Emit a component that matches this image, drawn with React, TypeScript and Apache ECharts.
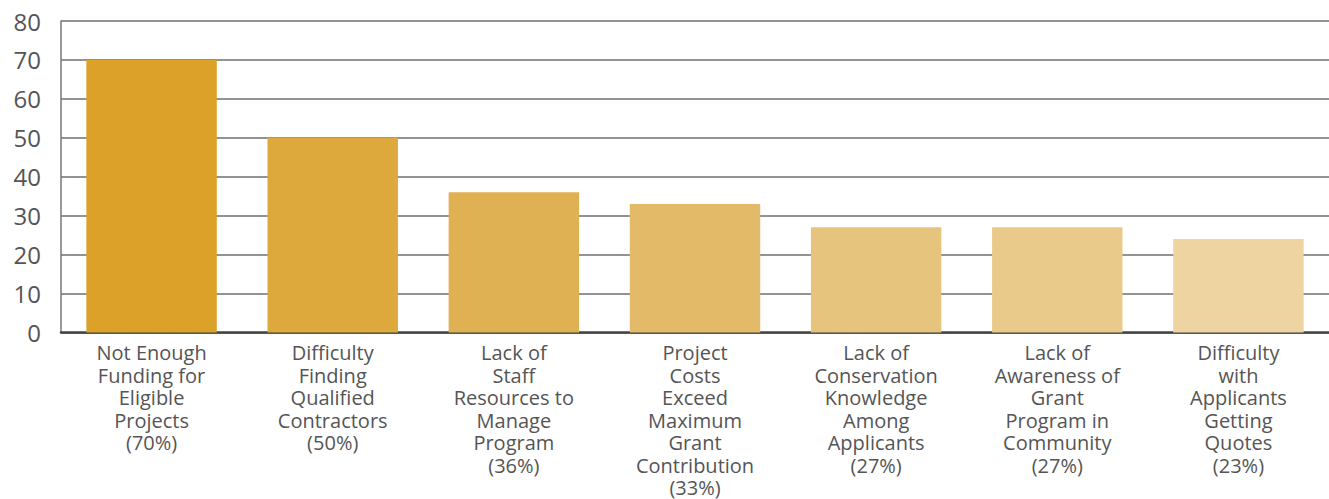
import React, { useEffect, useRef } from "react";
import * as echarts from "echarts";

const categories = [
  "Not Enough\nFunding for\nEligible\nProjects\n(70%)",
  "Difficulty\nFinding\nQualified\nContractors\n(50%)",
  "Lack of\nStaff\nResources to\nManage\nProgram\n(36%)",
  "Project\nCosts\nExceed\nMaximum\nGrant\nContribution\n(33%)",
  "Lack of\nConservation\nKnowledge\nAmong\nApplicants\n(27%)",
  "Lack of\nAwareness of\nGrant\nProgram in\nCommunity\n(27%)",
  "Difficulty\nwith\nApplicants\nGetting\nQuotes\n(23%)",
];
const values = [70, 50, 36, 33, 27, 27, 24];
const barColors = ["#DBA128", "#DDA83C", "#E0B153", "#E3BA68", "#E7C47D", "#EACA8A", "#EED4A0"];

export default function App() {
  const ref = useRef<HTMLDivElement>(null);
  useEffect(() => {
    document.body.style.margin = "0";
    const chart = echarts.init(ref.current!, undefined, { renderer: "svg" });
    chart.setOption({
      animation: false,
      grid: { left: 61, right: 0, top: 21, bottom: 163 },
      xAxis: {
        type: "category",
        data: categories,
        axisLine: { lineStyle: { color: "#444", width: 2.5 } },
        axisTick: { inside: true, length: 7, lineStyle: { color: "#555", width: 1.5 } },
        axisLabel: {
          interval: 0,
          margin: 9,
          color: "#555",
          fontFamily: "Open Sans",
          fontSize: 20,
          lineHeight: 22.5,
          align: "center",
        },
      },
      yAxis: {
        type: "value",
        min: 0,
        max: 80,
        interval: 10,
        axisLine: { show: true, lineStyle: { color: "#777", width: 1.5 } },
        axisTick: { show: false },
        splitLine: { lineStyle: { color: "#6f6f6f", width: 1.5 } },
        axisLabel: { color: "#555", fontFamily: "Open Sans", fontSize: 24, margin: 20 },
      },
      series: [
        {
          type: "bar",
          barWidth: "72%",
          data: values.map((v, i) => ({ value: v, itemStyle: { color: barColors[i] } })),
        },
      ],
    });
    return () => chart.dispose();
  }, []);
  return <div ref={ref} style={{ width: 1329, height: 499 }} />;
}
